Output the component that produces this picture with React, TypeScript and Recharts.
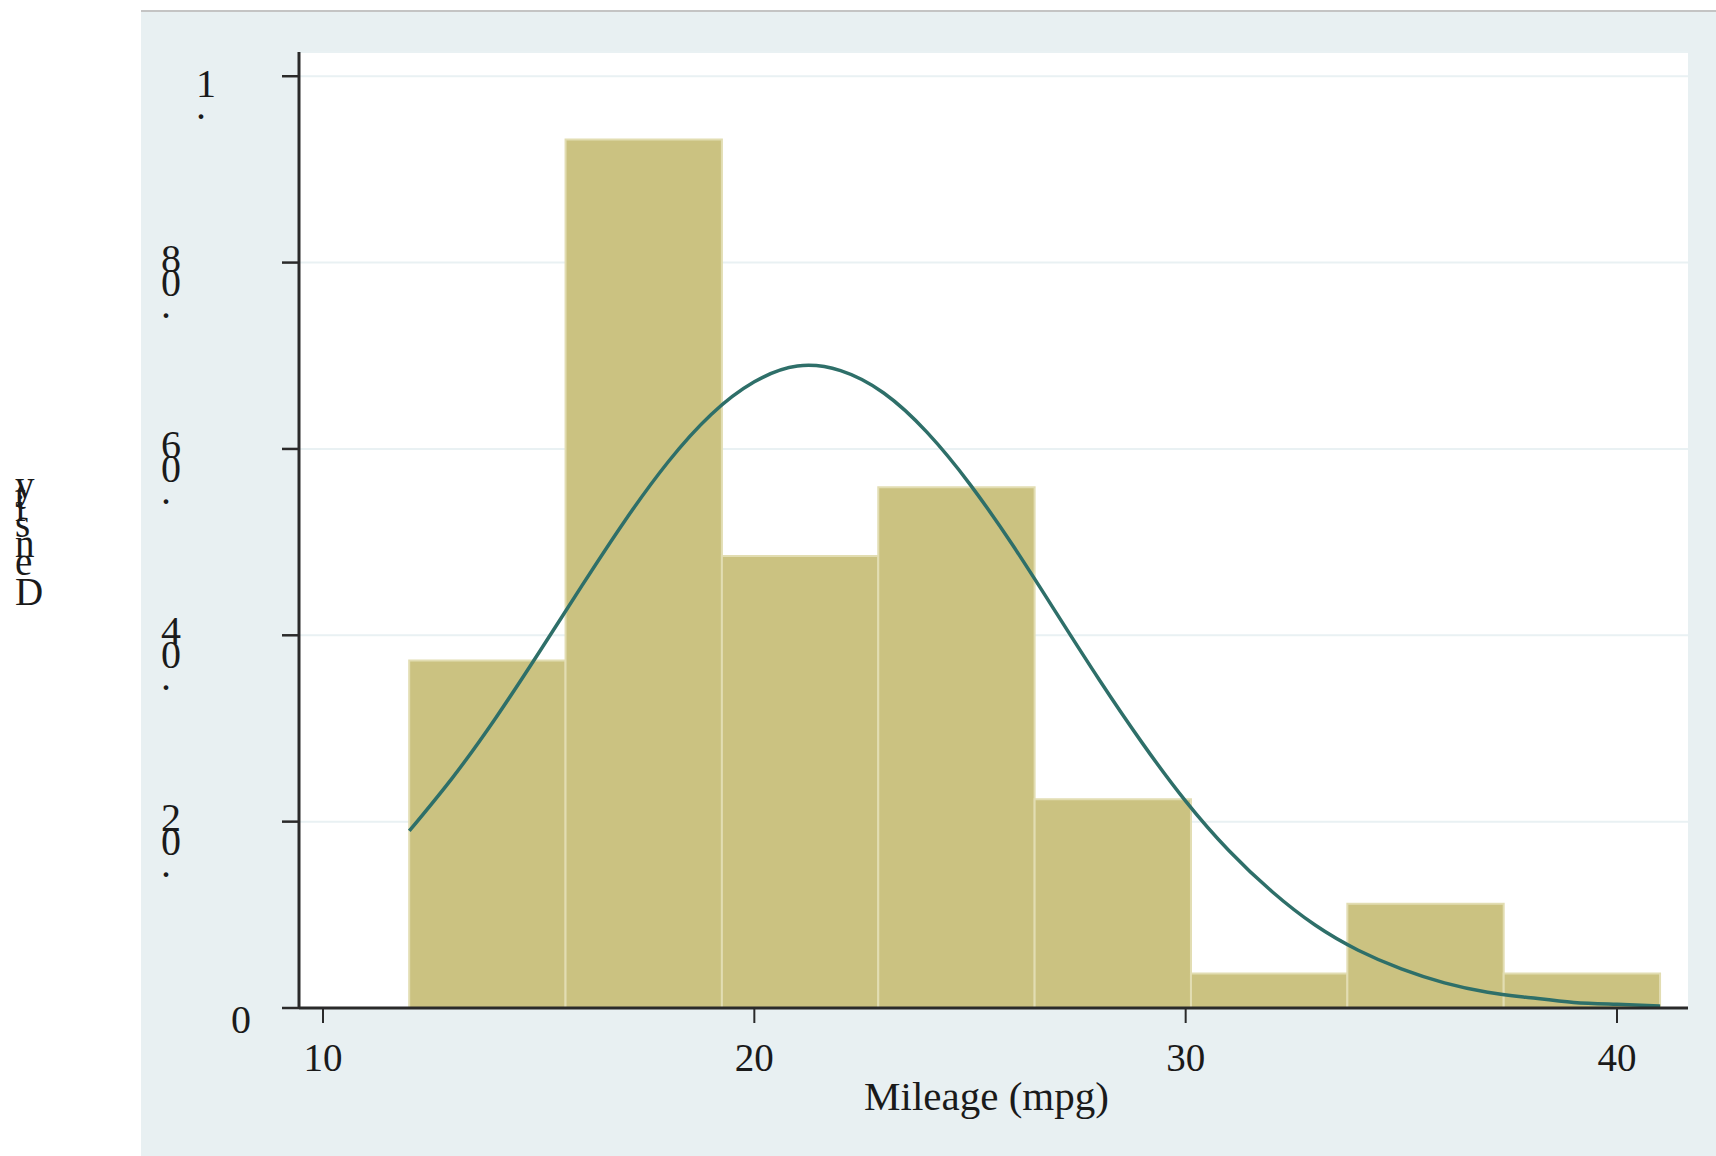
import { Bar, CartesianGrid, ComposedChart, Line, Rectangle, XAxis, YAxis } from "recharts";

// Histogram bins (mpg) and their densities
const binEdges = [12, 15.625, 19.25, 22.875, 26.5, 30.125, 33.75, 37.375, 41];
const binDensity = [0.0373, 0.0932, 0.0485, 0.0559, 0.0224, 0.0037, 0.0112, 0.0037];

// Normal density overlay
const curveX = [12, 13, 14, 15, 16, 17, 18, 19, 20, 21, 22, 23, 24, 25, 26, 27, 28, 29, 30, 31, 32, 33, 34, 35, 36, 37, 38, 39, 40, 41];
const curveY = [
  0.019, 0.0247, 0.0311, 0.0381, 0.0453, 0.0523, 0.0586, 0.0637, 0.0672, 0.0689,
  0.0684, 0.066, 0.0618, 0.0562, 0.0496, 0.0424, 0.0352, 0.0284, 0.0222, 0.0169,
  0.0125, 0.0089, 0.0062, 0.0042, 0.0027, 0.0017, 0.0011, 0.0006, 0.0004, 0.0002,
];

const xTicks = [10, 20, 30, 40];
const yTicks = [0, 0.02, 0.04, 0.06, 0.08, 0.1];

const X_DOMAIN: [number, number] = [9.4436, 41.646];
const Y_DOMAIN: [number, number] = [0, 0.1026];

const CHART_W = 1716;
const CHART_H = 1156;
const MARGIN = { top: 52, right: 28, left: 199, bottom: 48 };
const Y_AXIS_W = 100;
const X_AXIS_H = 100;
const PLOT_W = CHART_W - MARGIN.left - MARGIN.right - Y_AXIS_W;

const FONT = "'Liberation Serif', 'Times New Roman', serif";
const INK = "#1a1a1a";

const barData = binDensity.map((d, i) => ({
  x: (binEdges[i] + binEdges[i + 1]) / 2,
  density: d,
}));
const curveData = curveX.map((x, i) => ({ x, y: curveY[i] }));

// pixel width of one bin, from the x scale
const binPx = ((binEdges[1] - binEdges[0]) * PLOT_W) / (X_DOMAIN[1] - X_DOMAIN[0]);

const fmtY = (v: number) => (v === 0 ? "0" : String(v).replace(/^0/, ""));

// y labels: glyphs upright, stacked bottom-to-top like the original export
const YTick = (props: any) => {
  const { x, y, payload } = props;
  const chars = fmtY(payload.value).split("");
  const n = chars.length;
  const ox = x - 16 - 35 * n;
  const spots: number[] = [];
  let base = y + [25, 43, 55][n - 1];
  chars.forEach((ch) => {
    spots.push(base);
    base -= ch === "." ? 22 : 24;
  });
  return (
    <g>
      {chars.map((ch, i) => (
        <text key={i} x={ox} y={spots[i]} fontFamily={FONT} fontSize={40} fill={INK}>
          {ch}
        </text>
      ))}
    </g>
  );
};

const XTick = (props: any) => {
  const { x, y, payload } = props;
  return (
    <text x={x} y={y + 48} textAnchor="middle" fontFamily={FONT} fontSize={39} fill={INK}>
      {payload.value}
    </text>
  );
};

// "Density" title, same stacked style
const advance: Record<string, number> = { D: 0.722, e: 0.444, n: 0.5, s: 0.389, i: 0.278, t: 0.278, y: 0.5 };
const YTitle = (props: any) => {
  const { viewBox } = props;
  const chars = "Density".split("");
  const ox = viewBox.x - 184;
  const spots: number[] = [];
  let base = viewBox.y + viewBox.height / 2 + 75;
  chars.forEach((ch) => {
    spots.push(base);
    base -= (advance[ch] ?? 0.5) * 41;
  });
  return (
    <g>
      {chars.map((ch, i) => (
        <text key={i} x={ox} y={spots[i]} fontFamily={FONT} fontSize={39} fill={INK}>
          {ch}
        </text>
      ))}
    </g>
  );
};

const XTitle = (props: any) => {
  const { viewBox } = props;
  return (
    <text
      x={viewBox.x + viewBox.width / 2 - 7}
      y={viewBox.y + 102}
      textAnchor="middle"
      fontFamily={FONT}
      fontSize={41}
      fill={INK}
    >
      Mileage (mpg)
    </text>
  );
};

// widen each bar to its full bin, keeping the centre the scale gave it
const BinShape = (props: any) => {
  const { x, width, y, height } = props;
  const cx = x + width / 2;
  return (
    <Rectangle
      x={cx - binPx / 2}
      y={y}
      width={binPx}
      height={height}
      fill="#cbc281"
      stroke="#e2ddb2"
      strokeWidth={2}
    />
  );
};

export default function App() {
  return (
    <div style={{ position: "absolute", left: 0, top: 0, width: CHART_W, height: CHART_H, background: "#fff" }}>
      {/* outer graph region */}
      <div
        style={{
          position: "absolute",
          left: 141,
          top: 10,
          width: CHART_W - 141,
          height: CHART_H - 10,
          background: "#e8f0f2",
          borderTop: "2px solid #c4c4c4",
          boxSizing: "border-box",
        }}
      />
      <div style={{ position: "absolute", left: 0, top: 0 }}>
        <ComposedChart width={CHART_W} height={CHART_H} data={barData} margin={MARGIN}>
          <CartesianGrid vertical={false} fill="#ffffff" stroke="#e9f1f3" strokeWidth={2} />
          <XAxis
            type="number"
            dataKey="x"
            domain={X_DOMAIN}
            allowDataOverflow
            ticks={xTicks}
            height={X_AXIS_H}
            tickSize={15}
            tickMargin={0}
            tick={<XTick />}
            axisLine={{ stroke: "#2a2a2a", strokeWidth: 3 }}
            tickLine={{ stroke: "#2a2a2a", strokeWidth: 2 }}
            label={<XTitle />}
          />
          <YAxis
            type="number"
            domain={Y_DOMAIN}
            allowDataOverflow
            ticks={yTicks}
            width={Y_AXIS_W}
            tickSize={17}
            tickMargin={0}
            tick={<YTick />}
            axisLine={{ stroke: "#2a2a2a", strokeWidth: 3 }}
            tickLine={{ stroke: "#2a2a2a", strokeWidth: 2.5 }}
            label={<YTitle />}
          />
          <Bar dataKey="density" shape={<BinShape />} isAnimationActive={false} />
          <Line
            data={curveData}
            dataKey="y"
            type="natural"
            stroke="#2e6f69"
            strokeWidth={3.5}
            dot={false}
            activeDot={false}
            isAnimationActive={false}
          />
        </ComposedChart>
      </div>
    </div>
  );
}
